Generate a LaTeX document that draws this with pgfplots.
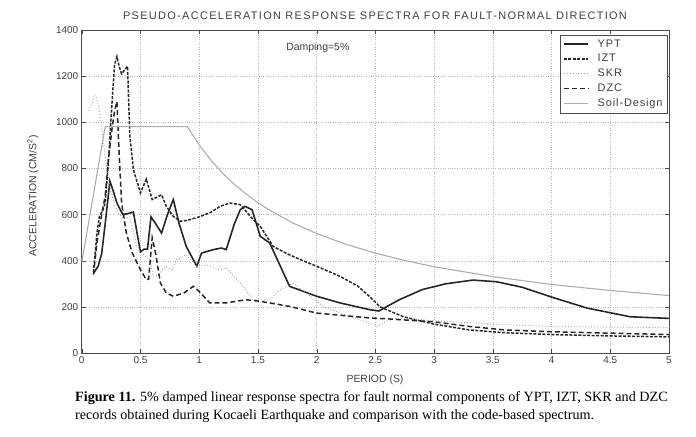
\documentclass[border=0pt]{standalone}
\usepackage{pgfplots}
\pgfplotsset{compat=1.18}
\usepackage{fontspec}
\setmainfont{Liberation Sans}
\newfontfamily\capfont{Liberation Serif}
\newfontfamily\spacedfont[LetterSpace=12]{Liberation Sans}
\newfontfamily\legfont[LetterSpace=8]{Liberation Sans}
\definecolor{txt}{gray}{0.25}
\definecolor{soil}{gray}{0.68}
\definecolor{skr}{gray}{0.62}
\begin{document}
\begin{tikzpicture}
\useasboundingbox (-81.7bp,-84bp) rectangle (614.3bp,353bp);
\begin{axis}[
  scale only axis, width=587.3bp, height=323bp,
  xmin=0, xmax=5, ymin=0, ymax=1400,
  xtick={0,0.5,...,5}, ytick={0,200,...,1400},
  scaled ticks=false,
  /pgf/number format/1000 sep={},
  /pgf/number format/assume math mode=true,
  grid=major, grid style={gray!55, dotted},
  axis line style={gray!60!black},
  tick style={gray!60!black},
  tick align=inside,
  major tick length=4bp,
  tick label style={font=\fontsize{10}{12}\selectfont, text=txt},
  legend style={at={(0.997,0.985)}, anchor=north east, draw=gray!60!black,
    font=\legfont\fontsize{11}{12}\selectfont, text=txt, row sep=1.8bp,
    inner sep=2.5bp},
  legend cell align=left,
  legend image code/.code={\draw[#1] (0bp,0bp) -- (24bp,0bp); \path (31bp,0bp);},
]
\addplot[black!85, line width=1.6pt] coordinates {
(0.10,345) (0.14,376) (0.17,430) (0.20,560) (0.24,745) (0.27,700) (0.30,650)
(0.35,600) (0.40,605) (0.44,611) (0.50,438) (0.53,450) (0.56,450) (0.59,590)
(0.63,560) (0.68,520) (0.73,600) (0.78,665) (0.83,560) (0.89,462) (0.98,376)
(1.02,433) (1.12,448) (1.19,455) (1.23,448) (1.30,560) (1.35,621) (1.39,636)
(1.45,621) (1.52,506) (1.60,477) (1.77,289) (2.00,246) (2.20,217) (2.45,188)
(2.53,182) (2.70,230) (2.90,275) (3.10,300) (3.33,316) (3.53,309) (3.75,285)
(3.99,244) (4.30,195) (4.67,157) (5.00,150)};
\addlegendentry{YPT}
\addplot[black!85, line width=1.5pt, dash pattern=on 3pt off 1.5pt] coordinates {
(0.10,350) (0.13,520) (0.15,590) (0.18,620) (0.20,650) (0.23,850) (0.26,1100)
(0.28,1250) (0.30,1285) (0.32,1240) (0.34,1210) (0.37,1230) (0.39,1243)
(0.41,940) (0.44,795) (0.50,694) (0.55,754) (0.60,665) (0.68,686) (0.72,636)
(0.78,592) (0.84,571) (0.90,575) (1.00,590) (1.10,610) (1.18,636) (1.26,650)
(1.35,643) (1.46,578) (1.52,549) (1.63,462) (1.75,430) (1.86,405) (2.00,376)
(2.20,332) (2.35,290) (2.45,245) (2.54,200) (2.74,157) (3.00,125) (3.30,100)
(3.60,88) (4.00,80) (4.50,74) (5.00,70)};
\addlegendentry{IZT}
\addplot[skr, line width=0.9pt, dotted] coordinates {
(0.06,1050) (0.09,1085) (0.11,1120) (0.13,1100) (0.15,1050) (0.17,980)
(0.20,850) (0.24,720) (0.28,640) (0.32,600) (0.36,580) (0.41,590) (0.47,462)
(0.52,430) (0.58,405) (0.61,332) (0.66,340) (0.71,376) (0.77,361) (0.81,405)
(0.89,426) (0.98,376) (1.06,383) (1.18,361) (1.23,369) (1.35,303) (1.46,231)
(1.60,231) (1.69,275) (1.80,303) (1.91,260) (2.06,202) (2.20,173) (2.45,130)
(2.52,115) (2.60,140) (2.68,150) (3.00,140) (3.50,125) (4.00,115) (4.50,112)
(5.00,110)};
\addlegendentry{SKR}
\addplot[black!85, line width=1.5pt, dash pattern=on 5pt off 3pt] coordinates {
(0.10,340) (0.13,480) (0.17,600) (0.20,680) (0.23,850) (0.26,980) (0.28,1050)
(0.30,1090) (0.32,850) (0.34,650) (0.38,520) (0.43,434) (0.50,361) (0.55,318)
(0.57,320) (0.60,500) (0.63,430) (0.67,303) (0.72,260) (0.78,246) (0.87,260)
(0.95,289) (1.00,267) (1.09,217) (1.23,217) (1.40,231) (1.52,224) (1.77,202)
(2.00,173) (2.45,152) (2.60,148) (3.00,135) (3.30,115) (3.60,100) (4.00,92)
(4.50,86) (5.00,80)};
\addlegendentry{DZC}
\addplot[soil, line width=1.1pt] coordinates {
(0,392) (0.2,981) (0.9,981) (1.0,902) (1.1,836) (1.2,779) (1.3,731) (1.4,689)
(1.5,652) (1.6,619) (1.8,563) (2.0,518) (2.25,471) (2.5,433) (2.75,401)
(3.0,374) (3.5,331) (4.0,297) (4.5,271) (5.0,249)};
\addlegendentry{Soil-Design}
\node[font=\fontsize{10.5}{12}\selectfont, text=txt] at (axis cs:2.01,1322) {Damping=5\%};
\end{axis}
\node[font=\spacedfont\fontsize{11}{13}\selectfont, text=txt] at (293.3bp,337bp)
  {PSEUDO-ACCELERATION RESPONSE SPECTRA FOR FAULT-NORMAL DIRECTION};
\node[font=\fontsize{10.5}{12}\selectfont, text=txt] at (293.3bp,-27bp) {PERIOD (S)};
\node[rotate=90, font=\fontsize{10.5}{12}\selectfont, text=txt] at (-48.7bp,157bp)
  {ACCELERATION (CM/S\textsuperscript{2})};
\node[anchor=west, inner sep=0pt, font=\capfont\fontsize{14.2}{16}\selectfont] at (-6.7bp,-45bp)
  {\textbf{Figure 11.} 5\% damped linear response spectra for fault normal components of YPT, IZT, SKR and DZC};
\node[anchor=west, inner sep=0pt, font=\capfont\fontsize{14.2}{16}\selectfont] at (-6.7bp,-63bp)
  {records obtained during Kocaeli Earthquake and comparison with the code-based spectrum.};
\end{tikzpicture}
\end{document}
